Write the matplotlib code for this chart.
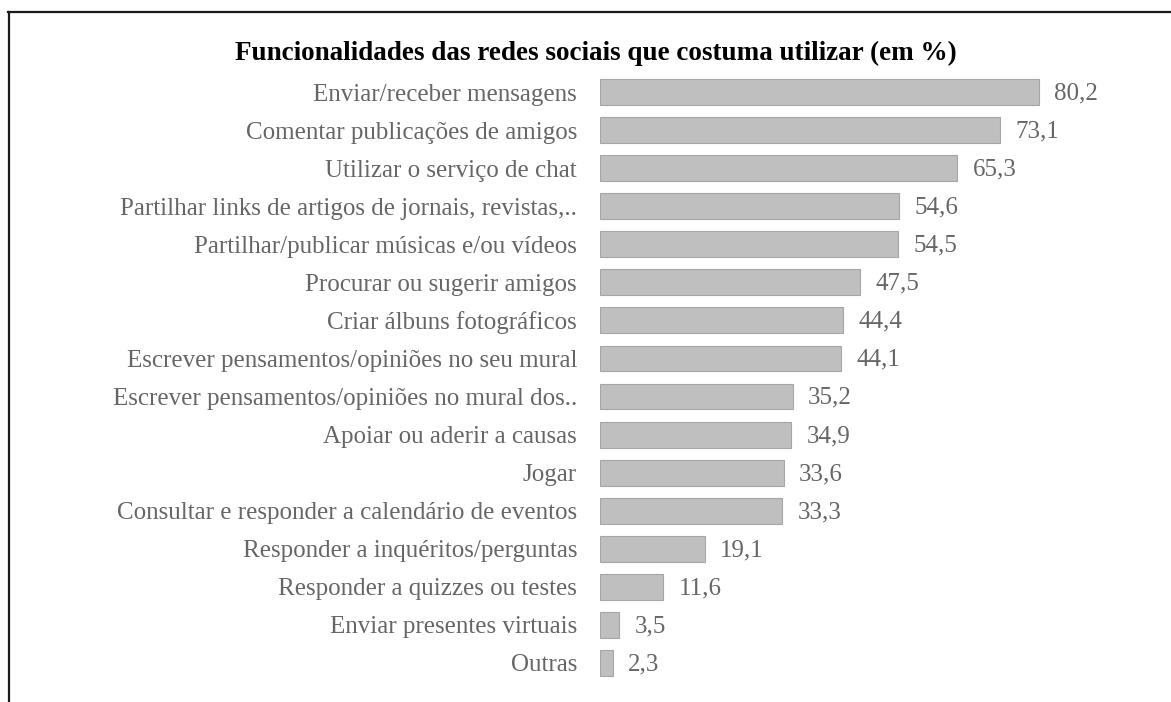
import matplotlib
matplotlib.use("Agg")
import matplotlib.pyplot as plt
from matplotlib.lines import Line2D

categories = [
    "Enviar/receber mensagens",
    "Comentar publicações de amigos",
    "Utilizar o serviço de chat",
    "Partilhar links de artigos de jornais, revistas,..",
    "Partilhar/publicar músicas e/ou vídeos",
    "Procurar ou sugerir amigos",
    "Criar álbuns fotográficos",
    "Escrever pensamentos/opiniões no seu mural",
    "Escrever pensamentos/opiniões no mural dos..",
    "Apoiar ou aderir a causas",
    "Jogar",
    "Consultar e responder a calendário de eventos",
    "Responder a inquéritos/perguntas",
    "Responder a quizzes ou testes",
    "Enviar presentes virtuais",
    "Outras",
]
values = [80.2, 73.1, 65.3, 54.6, 54.5, 47.5, 44.4, 44.1, 35.2, 34.9, 33.6, 33.3, 19.1, 11.6, 3.5, 2.3]
title = "Funcionalidades das redes sociais que costuma utilizar (em %)"

W, H = 1171, 702
fig = plt.figure(figsize=(W / 100, H / 100), dpi=100)
plt.rcParams['font.family'] = ['Liberation Serif', 'DejaVu Serif']

ax = fig.add_axes([600 / W, (H - 682) / H, 547.4 / W, 609 / H])
ypos = list(range(len(categories)))
ax.barh(ypos, values, height=0.68, color="#bfbfbf", edgecolor="#a6a6a6", linewidth=0.8)
ax.set_xlim(0, 100)
ax.set_ylim(len(categories) - 0.5, -0.5)
ax.set_yticks(ypos)
ax.set_yticklabels(categories, fontsize=18, color="#666666")
ax.tick_params(axis="y", length=0, pad=16.5)
ax.set_xticks([])
for s in ax.spines.values():
    s.set_visible(False)

for y, v in zip(ypos, values):
    ax.annotate(f"{v:.1f}".replace(".", ","), xy=(v, y), xytext=(11, -1.0),
                textcoords="offset points", va="center", ha="left",
                fontsize=18, color="#666666")

fig.text(596 / W, 1 - 53 / H, title, ha="center", va="center",
         fontsize=19.5, fontweight="bold", color="black")

# outer frame (top and left)
fig.add_artist(Line2D([8 / W, 1.0], [1 - 12 / H, 1 - 12 / H], transform=fig.transFigure,
                      color="#1a1a1a", linewidth=1.6))
fig.add_artist(Line2D([9 / W, 9 / W], [0, 1 - 12 / H], transform=fig.transFigure,
                      color="#1a1a1a", linewidth=1.6))

fig.savefig("out.png", dpi=100)
